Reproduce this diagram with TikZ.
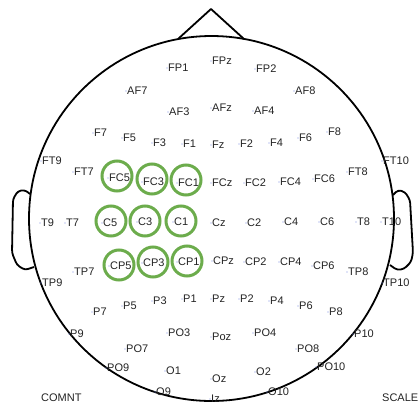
\documentclass[tikz,border=0pt]{standalone}
\usepackage{fontspec}
\setmainfont{Liberation Sans}
\definecolor{ink}{RGB}{35,35,35}
\definecolor{selgreen}{RGB}{108,172,76}
\definecolor{dotblue}{RGB}{120,140,225}
\begin{document}
\begin{tikzpicture}[x=1bp,y=-1bp,
  elec/.style={anchor=west,inner sep=0pt,text=ink,font=\fontsize{11bp}{13bp}\selectfont},
  head/.style={line width=1.8bp,black,line join=round},
  sel/.style={line width=3bp,selgreen}]
\useasboundingbox (0,0) rectangle (419,405);

% head outline, nose and ears
\draw[head] (211.5,218.5) circle[radius=182.5];
\draw[head] (178,39) -- (211,9) -- (244,39);
\draw[head,rounded corners=3bp] (30,194) -- (25,190) -- (18,191) -- (13,199)
  -- (12,253) -- (17,265) -- (25,270) -- (34,267);
\draw[head,rounded corners=3bp] (393,195) -- (398,190) -- (405,192) -- (410,200)
  -- (413,253) -- (411,262) -- (404,269) -- (397,270) -- (390,265);

% electrode sites (left edge of each label)
\foreach \n/\x/\y in {
  FPz/212/61, FP1/168/68, FP2/256/69,
  AF7/127/91, AF8/295/91, AF3/169/112, AFz/212/108, AF4/254/111,
  F7/94/133, F5/123/138, F3/153/143, F1/183/144, Fz/212/145,
  F2/240/144, F4/270/143, F6/299/138, F8/328/132,
  FT9/42/161, FT7/74/172, FC5/109/178, FC3/143/182, FC1/178/183,
  FCz/212/183, FC2/245/183, FC4/280/182, FC6/314/179, FT8/348/172, FT10/383/161,
  T9/41/223, T7/66/223, C5/103/223, C3/138/222, C1/174/222, Cz/212/223,
  C2/247/223, C4/284/222, C6/320/222, T8/357/222, T10/382/222,
  TP9/42/283, TP7/74/272, CP5/110/266, CP3/143/263, CP1/178/262, CPz/213/261,
  CP2/245/262, CP4/280/262, CP6/313/266, TP8/348/272, TP10/383/283,
  P7/93/312, P5/123/306, P3/153/301, P1/183/299, Pz/212/299,
  P2/240/299, P4/270/301, P6/299/306, P8/329/312,
  P9/70/334, P10/354/334,
  PO7/126/349, PO3/168/333, Poz/212/337, PO4/254/333, PO8/297/349,
  PO9/107/368, PO10/317/367,
  O1/166/371, Oz/212/379, O2/256/372, O9/156/392, O10/268/392, Iz/211/399}
{
  \fill[dotblue] (\x-1,\y) circle[radius=0.6];
  \node[elec] (e\n) at (\x,\y) {\n};
}

\node[elec] (comnt) at (41,398) {COMNT};
\node[elec] (scale) at (382,398) {SCALE};

% highlighted electrodes
\foreach \x/\y in {117/176, 152/179, 186/180,
                   111/221, 145/221, 181/221,
                   119/265, 153/262, 187/261}
  \draw[sel] (\x,\y) circle[radius=15];
\end{tikzpicture}
\end{document}
